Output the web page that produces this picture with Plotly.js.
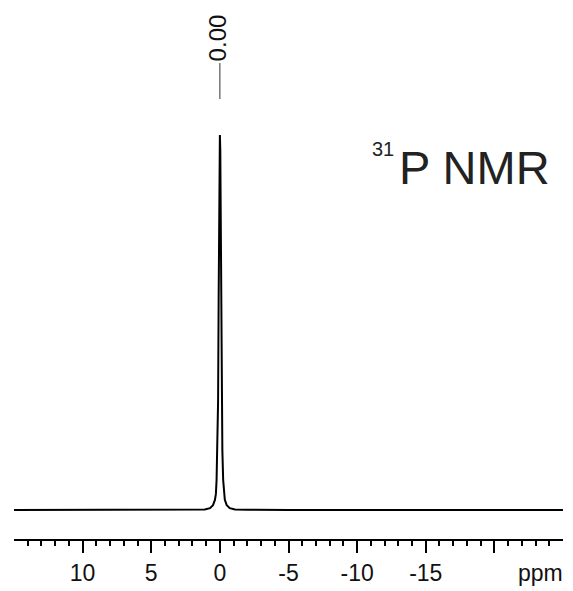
<!DOCTYPE html>
<html>
<head>
<meta charset="utf-8">
<script src="https://cdn.plot.ly/plotly-3.0.1.min.js"></script>
<style>html,body{margin:0;padding:0;background:#fff;}</style>
</head>
<body>
<div id="chart" style="width:573px;height:591px;"></div>
<script>
// Spectrum (chemical shift in ppm, relative intensity)
const ppm = [15, 5, 2, 1.1, 0.72, 0.5, 0.36, 0.29, 0.24, 0.18, 0.13, 0.09, 0.06, 0.03, 0, -0.03, -0.06, -0.09, -0.13, -0.18, -0.24, -0.29, -0.36, -0.5, -0.72, -1.1, -2, -5, -25];
const intensity = [0, 0, 0.05, 0.13, 0.5, 1.3, 2.7, 4.3, 8, 16, 29, 56, 83, 96, 100, 96, 83, 56, 29, 16, 8, 4.3, 2.7, 1.3, 0.5, 0.13, 0.05, 0, 0];

// Axis ticks
const majorTicks = [10, 5, 0, -5, -10, -15, -20];
const majorLabels = ['10', '5', '0', '-5', '-10', '-15', ''];
const minorTicks = [14, 13, 12, 11, 9, 8, 7, 6, 4, 3, 2, 1, -1, -2, -3, -4, -6, -7, -8, -9, -11, -12, -13, -14, -16, -17, -18, -19, -21, -22, -23, -24];
const unitLabelPos = [-23.35];
const unitLabel = ['ppm'];

// Peak label
const peakPos = 0;
const peakLabel = '0.00';

const font = 'Liberation Sans, Arial, sans-serif';

const traces = [
  {x: ppm, y: intensity, type: 'scatter', mode: 'lines',
   line: {color: '#000', width: 2}, hoverinfo: 'none'},
  {x: unitLabelPos, y: [0], type: 'scatter', mode: 'lines', xaxis: 'x2',
   line: {color: 'rgba(0,0,0,0)', width: 0}, hoverinfo: 'none'}
];

const layout = {
  width: 573, height: 591,
  margin: {l: 14, r: 10, t: 10, b: 52, pad: 0},
  paper_bgcolor: '#fff', plot_bgcolor: '#fff',
  showlegend: false,
  xaxis: {
    range: [15, -25], showline: true, linewidth: 2, linecolor: '#000',
    ticks: 'outside', ticklen: 12, tickwidth: 2, tickcolor: '#000',
    tickmode: 'array', tickvals: majorTicks, ticktext: majorLabels,
    tickfont: {family: font, size: 23, color: '#111'},
    showgrid: false, zeroline: false, fixedrange: true,
    minor: {tickmode: 'array', tickvals: minorTicks, ticks: 'outside', ticklen: 5, tickwidth: 2, tickcolor: '#000', showgrid: false}
  },
  xaxis2: {
    overlaying: 'x', anchor: 'y', side: 'bottom', range: [15, -25],
    showline: false, ticks: '', showgrid: false, zeroline: false,
    tickmode: 'array', tickvals: unitLabelPos, ticktext: unitLabel,
    ticklabelstandoff: 18,
    tickfont: {family: font, size: 23, color: '#111'}, fixedrange: true
  },
  yaxis: {range: [-7.733, 133.33], visible: false, fixedrange: true},
  shapes: [
    {type: 'line', xref: 'x', yref: 'paper', x0: peakPos, x1: peakPos,
     y0: (539 - 99) / 529, y1: (539 - 63) / 529, line: {color: '#333', width: 1}}
  ],
  annotations: [
    {text: peakLabel, xref: 'x', yref: 'paper', x: peakPos, y: (539 - 37.5) / 529,
     textangle: -90, showarrow: false, xanchor: 'center', yanchor: 'middle', xshift: -2,
     font: {family: font, size: 24, color: '#111'}},
    {text: '31', xref: 'paper', yref: 'paper', x: (371 - 14) / 549, y: (539 - 149) / 529,
     showarrow: false, xanchor: 'left', yanchor: 'middle', borderpad: 0,
     font: {family: font, size: 20, color: '#222'}},
    {text: 'P NMR', xref: 'paper', yref: 'paper', x: (398 - 14) / 549, y: (539 - 168) / 529,
     showarrow: false, xanchor: 'left', yanchor: 'middle', borderpad: 0,
     font: {family: font, size: 47, color: '#222'}}
  ]
};

Plotly.newPlot('chart', traces, layout, {displayModeBar: false, staticPlot: true});
</script>
</body>
</html>
